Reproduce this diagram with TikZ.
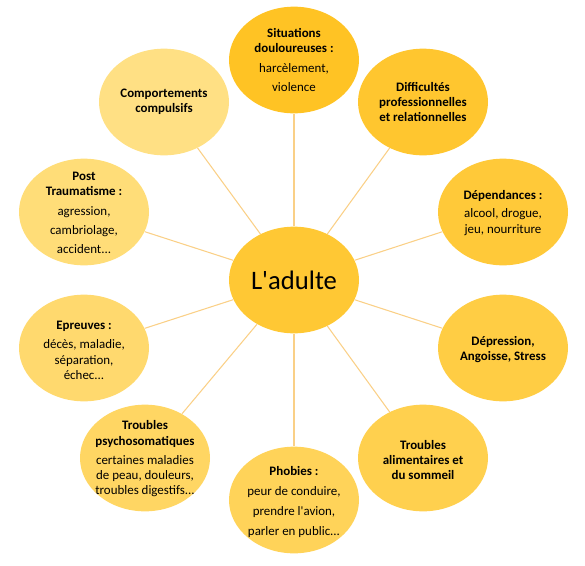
\documentclass[tikz,border=0pt]{standalone}
\usepackage{fontspec}
\setmainfont{Carlito}
\usetikzlibrary{shapes.geometric}
\definecolor{cA}{RGB}{255,195,36}
\definecolor{cB}{RGB}{255,224,132}
\definecolor{cCenter}{RGB}{255,200,52}
\definecolor{linkc}{RGB}{250,208,135}
\colorlet{c1}{cA}
\colorlet{c2}{cB!11!cA}
\colorlet{c3}{cB!22!cA}
\colorlet{c4}{cB!33!cA}
\colorlet{c5}{cB!44!cA}
\colorlet{c6}{cB!55!cA}
\colorlet{c7}{cB!66!cA}
\colorlet{c8}{cB!77!cA}
\colorlet{c9}{cB!88!cA}
\colorlet{c10}{cB}
\begin{document}
\begin{tikzpicture}[x=0.75pt,y=-0.75pt,
  bubble/.style={ellipse, minimum width=97.5pt, minimum height=80pt, inner sep=0pt, draw=none},
  link/.style={draw=linkc, line width=0.8pt},
  lab/.style={align=center, font=\fontsize{9.7}{11.3}\selectfont, text=black, inner sep=0pt}]
\useasboundingbox (0,0) rectangle (585,565);

\node[bubble, fill=cCenter] (c) at (294,280) {};
\node[bubble, fill=c1] (n1) at (294,60) {};
\node[bubble, fill=c2] (n2) at (423,102) {};
\node[bubble, fill=c3] (n3) at (503,212) {};
\node[bubble, fill=c4] (n4) at (503,348) {};
\node[bubble, fill=c5] (n5) at (423,458) {};
\node[bubble, fill=c6] (n6) at (294,500) {};
\node[bubble, fill=c7] (n7) at (145,458) {};
\node[bubble, fill=c8] (n8) at (84,348) {};
\node[bubble, fill=c9] (n9) at (84,212) {};
\node[bubble, fill=c10] (n10) at (164,102) {};

\foreach \k in {1,...,10} {\draw[link] (c) -- (n\k);}

\node[font=\fontsize{20}{24}\selectfont, inner sep=0pt] (tc) at (294,280) {L\textquotesingle adulte};
\node[lab] (t1) at (294,60) {\textbf{Situations}\\\textbf{douloureuses :}\\[3.5pt]harcèlement,\\[3.2pt]violence};
\node[lab] (t2) at (423,102) {\textbf{Difficultés}\\\textbf{professionnelles}\\\textbf{et relationnelles}};
\node[lab] (t3) at (503,213) {\textbf{Dépendances :}\\[2.8pt]alcool, drogue,\\[0.6pt]jeu, nourriture};
\node[lab] (t4) at (503,350) {\textbf{Dépression,}\\\textbf{Angoisse, Stress}};
\node[lab] (t5) at (423,460) {\textbf{Troubles}\\\textbf{alimentaires et}\\\textbf{du sommeil}};
\node[lab] (t6) at (294,502) {\textbf{Phobies :}\\[3.5pt]peur de conduire,\\[3.5pt]prendre l\textquotesingle avion,\\[3.5pt]parler en public...};
\node[lab] (t7) at (145,459) {\textbf{Troubles}\\\textbf{psychosomatiques}\\[3.5pt]certaines maladies\\de peau, douleurs,\\troubles digestifs...};
\node[lab] (t8) at (84,350) {\textbf{Epreuves :}\\[3.5pt]décès, maladie,\\séparation,\\échec...};
\node[lab] (t9) at (84,213) {\textbf{Post}\\\textbf{Traumatisme :}\\[3.5pt]agression,\\[3pt]cambriolage,\\[3pt]accident...};
\node[lab] (t10) at (164,102) {\textbf{Comportements}\\\textbf{compulsifs}};
\end{tikzpicture}
\end{document}
